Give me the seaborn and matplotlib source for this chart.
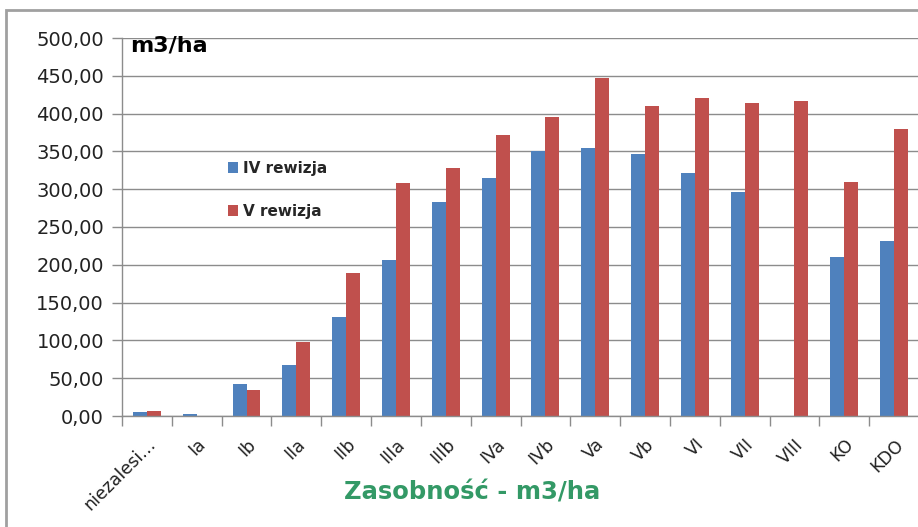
import matplotlib
matplotlib.use("Agg")
import matplotlib.pyplot as plt
import seaborn as sns
import pandas as pd
from matplotlib.patches import Rectangle, Patch
from matplotlib.ticker import FixedLocator, FuncFormatter

categories = ["niezalesi…", "Ia", "Ib", "IIa", "IIb", "IIIa", "IIIb", "IVa", "IVb",
              "Va", "Vb", "VI", "VII", "VIII", "KO", "KDO"]
rew_iv = [5.5, 2.5, 42, 67, 131, 206, 283, 315, 350, 355, 346, 321, 296, 0, 210, 231]
rew_v = [7, 0, 34, 98, 189, 308, 328, 372, 395, 447, 410, 421, 414, 417, 309, 380]
series_names = ["IV rewizja", "V rewizja"]
colors = ["#4F81BD", "#C0504D"]

df = pd.DataFrame({
    "kat": categories * 2,
    "val": rew_iv + rew_v,
    "rew": [series_names[0]] * len(categories) + [series_names[1]] * len(categories),
})

sns.set_theme(style="white")
plt.rcParams["font.family"] = ["DejaVu Sans"]

fig = plt.figure(figsize=(9.18, 5.27), dpi=100)
ax = fig.add_axes([122 / 918, 1 - 416 / 527, 797 / 918, 378 / 527])

sns.barplot(data=df, x="kat", y="val", hue="rew", order=categories,
            hue_order=series_names, palette=colors, width=0.56, gap=0,
            saturation=1, ax=ax, legend=False, edgecolor="none")

ax.set_xlim(-0.5, len(categories) - 0.5)
ax.set_ylim(0, 500)
ax.set_yticks(range(0, 501, 50))
ax.yaxis.set_major_formatter(FuncFormatter(lambda v, p: f"{v:.2f}".replace(".", ",")))
ax.tick_params(axis="y", labelsize=14, colors="#8c8c8c", labelcolor="#222222",
               length=7, width=1, direction="out", left=True, pad=6)
ax.grid(axis="y", color="#8c8c8c", linewidth=1)
ax.set_axisbelow(True)

ax.set_xticks(range(len(categories)))
ax.set_xticklabels(categories, rotation=45, ha="right", rotation_mode="anchor",
                   fontsize=12.5, color="#222222")
ax.tick_params(axis="x", which="major", length=0, pad=14)
ax.xaxis.set_minor_locator(FixedLocator([i - 0.5 for i in range(len(categories) + 1)]))
ax.tick_params(axis="x", which="minor", length=7, width=1, color="#8c8c8c",
               direction="out", bottom=True)

for s in ["top", "right"]:
    ax.spines[s].set_visible(False)
for s in ["left", "bottom"]:
    ax.spines[s].set_color("#8c8c8c")
    ax.spines[s].set_linewidth(1)

ax.set_xlabel("Zasobność - m3/ha", fontsize=17.5, fontweight="bold", color="#339966")
ax.xaxis.set_label_coords((472 - 122) / 797, -(481 - 416) / 378)
ax.xaxis.label.set_va("top")
ax.set_ylabel("")

fig.text(130 / 918, 1 - 45 / 527, "m3/ha", fontsize=16, fontweight="bold",
         color="black", va="center", ha="left")

handles = [Patch(facecolor=c, edgecolor="none") for c in colors]
fig.legend(handles, series_names, loc="upper left",
           bbox_to_anchor=(220 / 918, 1 - 153 / 527), frameon=False,
           prop={"weight": "bold", "size": 11}, handlelength=0.7, handleheight=0.7,
           handletextpad=0.3, labelspacing=1.85, borderpad=0)

fig.add_artist(Rectangle((6 / 918, -0.1), 1.2, 1 - 10 / 527 + 0.1,
                         transform=fig.transFigure, fill=False,
                         edgecolor="#a0a0a0", linewidth=2))

fig.savefig("out.png", dpi=100)
